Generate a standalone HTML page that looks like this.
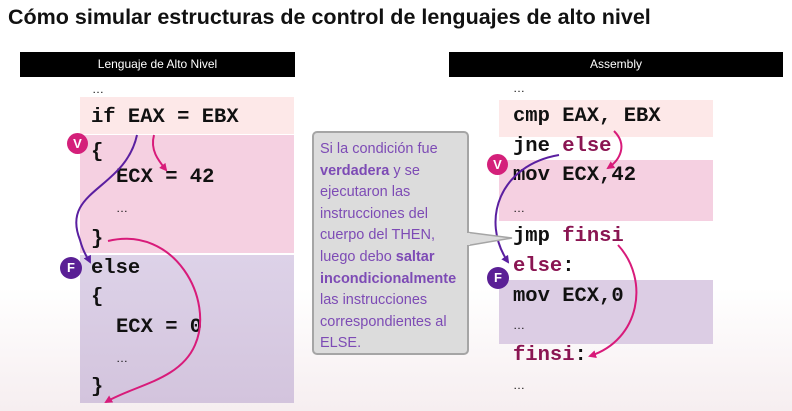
<!DOCTYPE html>
<html><head><meta charset="utf-8"><style>
body{margin:0;width:792px;height:411px;overflow:hidden;background:linear-gradient(180deg,#fff 0%,#fff 70%,#f6eef0 100%);font-family:"Liberation Sans",sans-serif;position:relative}
.a{position:absolute}
.t{left:8px;top:5px;font-size:21.5px;font-weight:bold;color:#111;white-space:nowrap}
.bar{background:#000;color:#fff;font-size:12px;text-align:center;line-height:25px;top:52px;height:25px}
.m{font-family:"Liberation Mono",monospace;font-weight:bold;font-size:20.5px;color:#111;white-space:pre;line-height:20px}
.k{color:#8a1552}
.d{font-size:12px;color:#111;font-family:"Liberation Sans",sans-serif}
.c{border-radius:50%;color:#fff;font-weight:bold;font-size:13px;text-align:center}
.call{left:312px;top:131px;width:141px;height:208px;background:#dcdcdc;border:2px solid #a5a5a5;border-radius:5px;padding:6px;color:#7d4bb5;font-size:14.5px;line-height:21.6px}
</style></head><body>
<div class="a t">Cómo simular estructuras de control de lenguajes de alto nivel</div>
<div class="a bar" style="left:20px;width:275px">Lenguaje de Alto Nivel</div>
<div class="a bar" style="left:449px;width:334px">Assembly</div>

<div class="a" style="left:80px;top:97px;width:214px;height:37px;background:#fde8e8"></div>
<div class="a" style="left:80px;top:135px;width:214px;height:118px;background:#f5d0e1"></div>
<div class="a" style="left:80px;top:255px;width:214px;height:148px;background:linear-gradient(#ddd2e8,#d3c4dd)"></div>
<div class="a d" style="left:92px;top:82px">…</div>
<div class="a m" style="left:91px;top:108px">if EAX = EBX</div>
<div class="a m" style="left:91px;top:143px">{</div>
<div class="a m" style="left:116px;top:168px">ECX = 42</div>
<div class="a d" style="left:116px;top:201px">…</div>
<div class="a m" style="left:91px;top:230px">}</div>
<div class="a m" style="left:91px;top:259px">else</div>
<div class="a m" style="left:91px;top:288px">{</div>
<div class="a m" style="left:116px;top:318px">ECX = 0</div>
<div class="a d" style="left:116px;top:351px">…</div>
<div class="a m" style="left:91px;top:378px">}</div>

<div class="a" style="left:499px;top:100px;width:214px;height:37px;background:#fde8e8"></div>
<div class="a" style="left:499px;top:160px;width:214px;height:61px;background:#f5d0e1"></div>
<div class="a" style="left:499px;top:280px;width:214px;height:64px;background:#dccde4"></div>
<div class="a d" style="left:513px;top:81px">…</div>
<div class="a m" style="left:513px;top:107px">cmp EAX, EBX</div>
<div class="a m" style="left:513px;top:137px">jne <span class="k">else</span></div>
<div class="a m" style="left:513px;top:166px">mov ECX,42</div>
<div class="a d" style="left:513px;top:201px">…</div>
<div class="a m" style="left:513px;top:227px">jmp <span class="k">finsi</span></div>
<div class="a m" style="left:513px;top:257px"><span class="k">else</span>:</div>
<div class="a m" style="left:513px;top:287px">mov ECX,0</div>
<div class="a d" style="left:513px;top:318px">…</div>
<div class="a m" style="left:513px;top:346px"><span class="k">finsi</span>:</div>
<div class="a d" style="left:513px;top:378px">…</div>

<svg class="a" style="left:0;top:0" width="792" height="411">
<defs>
<marker id="p" markerWidth="8" markerHeight="8" refX="6" refY="4" orient="auto" markerUnits="userSpaceOnUse"><path d="M0,0 L8,4 L0,8z" fill="#d81b7a"/></marker>
<marker id="u" markerWidth="8" markerHeight="8" refX="6" refY="4" orient="auto" markerUnits="userSpaceOnUse"><path d="M0,0 L8,4 L0,8z" fill="#5a1fa0"/></marker>
</defs>
<g fill="none" stroke-width="2">
<path d="M154,135 C150,150 158,160 166,170" stroke="#d81b7a" marker-end="url(#p)"/>
<path d="M137,135 C125,190 60,190 80,240 C84,255 88,258 90,262" stroke="#5a1fa0" marker-end="url(#u)"/>
<path d="M108,241 C175,225 215,300 195,345 C180,380 135,385 106,402" stroke="#d81b7a" marker-end="url(#p)"/>
<path d="M614,131 C628,145 620,160 608,168" stroke="#d81b7a" marker-end="url(#p)"/>
<path d="M559,155 C500,165 480,220 508,262" stroke="#5a1fa0" marker-end="url(#u)"/>
<path d="M618,245 C650,280 640,340 590,356" stroke="#d81b7a" marker-end="url(#p)"/>
</g>
<path d="M465,232 L512,238 L465,246" fill="#dcdcdc" stroke="#a5a5a5" stroke-width="1.5"/>
</svg>
<div class="a call">Si la condición fue <b>verdadera</b> y se ejecutaron las instrucciones del cuerpo del THEN, luego debo <b>saltar incondicionalmente</b> las instrucciones correspondientes al ELSE.</div>
<svg class="a" style="left:462px;top:231px" width="8" height="16"><rect x="0" y="2" width="8" height="12" fill="#dcdcdc"/></svg>

<div class="a c" style="left:67px;top:133px;width:21px;height:21px;line-height:21px;background:#d4207a">V</div>
<div class="a c" style="left:60px;top:257px;width:22px;height:22px;line-height:22px;background:#5a1f95">F</div>
<div class="a c" style="left:487px;top:154px;width:21px;height:21px;line-height:21px;background:#d4207a">V</div>
<div class="a c" style="left:487px;top:267px;width:22px;height:22px;line-height:22px;background:#5a1f95">F</div>
</body></html>
